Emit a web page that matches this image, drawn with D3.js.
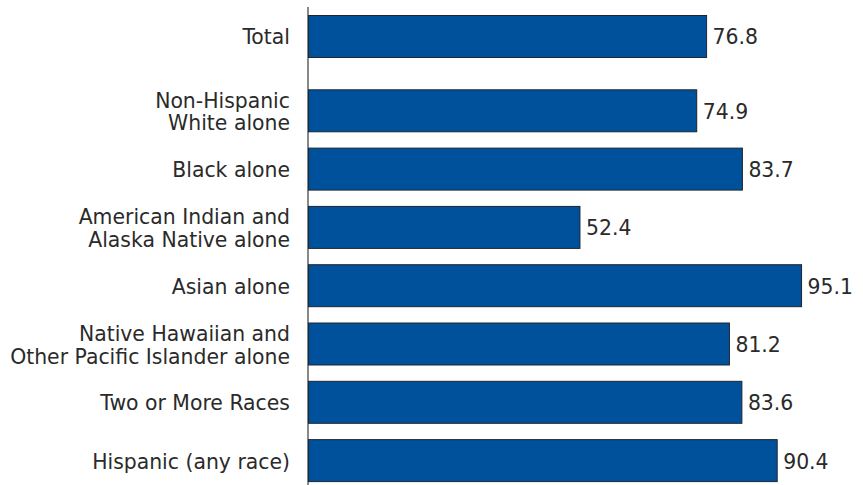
<!DOCTYPE html>
<html>
<head>
<meta charset="utf-8">
<script src="https://cdn.jsdelivr.net/npm/d3@7"></script>
<style>
  html, body { margin: 0; padding: 0; background: #fff; }
  svg { display: block; }
  text { font-family: "DejaVu Sans", sans-serif; font-size: 20.4px; fill: #2a2a2a; }
</style>
</head>
<body>
<svg id="chart" width="863" height="485"></svg>
<script>
// Data
const categories = [
  "Total",
  "Non-Hispanic|White alone",
  "Black alone",
  "American Indian and|Alaska Native alone",
  "Asian alone",
  "Native Hawaiian and|Other Pacific Islander alone",
  "Two or More Races",
  "Hispanic (any race)"
];
const values = [76.8, 74.9, 83.7, 52.4, 95.1, 81.2, 83.6, 90.4];
const valueLabels = ["76.8", "74.9", "83.7", "52.4", "95.1", "81.2", "83.6", "90.4"];

const data = categories.map((c, i) => ({ cat: c, value: values[i], label: valueLabels[i], i }));

const svg = d3.select("#chart");
const x0 = 308;
const pxPerUnit = 5.19;
const x = d3.scaleLinear().domain([0, 100]).range([x0, x0 + 100 * pxPerUnit]);

const groupGap = 16;
const y = d3.scaleBand()
  .domain(categories)
  .range([15, 15 + 7 * 58.3 + 42])
  .paddingInner(0.28)
  .paddingOuter(0);
const yTop = d => y(d.cat) + (d.i > 0 ? groupGap : 0);
const bw = y.bandwidth();

// axis line
svg.append("line")
  .attr("x1", x(0)).attr("x2", x(0))
  .attr("y1", 7).attr("y2", 485)
  .attr("stroke", "#3a3a3a").attr("stroke-width", 1.2);

// bars
svg.selectAll("rect.bar").data(data).enter().append("rect")
  .attr("class", "bar")
  .attr("x", x(0) + 0.5)
  .attr("y", d => yTop(d) + 0.5)
  .attr("width", d => x(d.value) - x(0) - 0.5)
  .attr("height", bw)
  .attr("fill", "#00519b")
  .attr("stroke", "#1e2430")
  .attr("stroke-width", 1);

// value labels
svg.selectAll("text.val").data(data).enter().append("text")
  .attr("class", "val")
  .attr("x", d => x(d.value) + 6)
  .attr("y", d => yTop(d) + bw / 2 + 8.5)
  .text(d => d.label);

// category labels
const labels = svg.selectAll("text.cat").data(data).enter().append("text")
  .attr("class", "cat")
  .attr("text-anchor", "end")
  .attr("x", 290);
labels.each(function(d) {
  const lines = d.cat.split("|");
  const c = yTop(d) + bw / 2;
  const t = d3.select(this);
  if (lines.length === 1) {
    t.append("tspan").attr("x", 290).attr("y", c + 8.5).text(lines[0]);
  } else {
    t.append("tspan").attr("x", 290).attr("y", c - 2.5).text(lines[0]);
    t.append("tspan").attr("x", 290).attr("y", c + 20).text(lines[1]);
  }
});
</script>
</body>
</html>
